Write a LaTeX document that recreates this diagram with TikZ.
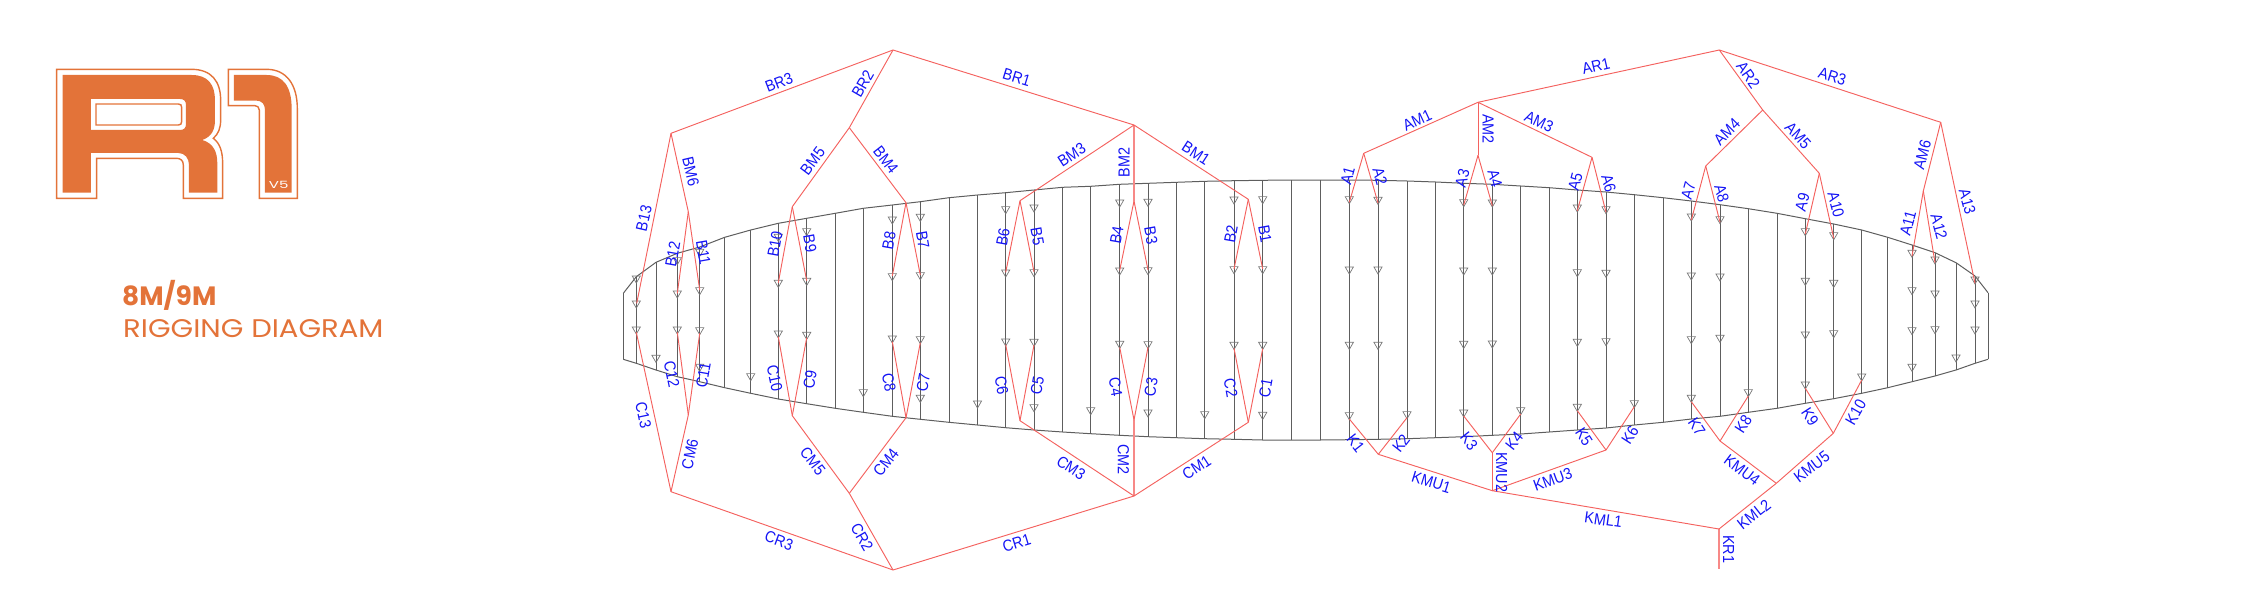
\documentclass[tikz,border=0pt]{standalone}
\usepackage{fontspec}
\setmainfont{Liberation Sans}
\newfontfamily\titlefont{Poppins}
\usetikzlibrary{shapes.geometric}
\definecolor{logoor}{HTML}{E37339}
\definecolor{rigred}{HTML}{F4625F}
\definecolor{labblue}{HTML}{1414F5}
\definecolor{ribgray}{HTML}{5E5E5E}
\tikzset{
  rib/.style={ribgray,line width=1pt},
  wing/.style={ribgray,line width=1pt},
  rig/.style={rigred,line width=.95pt},
  rigthick/.style={rigred!75,line width=1.5pt},
  mk/.style={draw=ribgray!85,line width=.7pt,regular polygon,regular polygon sides=3,shape border rotate=180,minimum size=9.5pt,inner sep=0pt},
  lab/.style={labblue,inner sep=0pt,font=\fontsize{16}{18}\selectfont},
  logoline/.style={logoor,line width=1.4pt},
  titletext/.style={logoor,inner sep=0pt,anchor=base west}
}
\begin{document}
\begin{tikzpicture}[x=1pt,y=-1pt]
\useasboundingbox (0,0) rectangle (2242,608);
\begin{scope}[x=.3333pt,y=-.3333pt,yshift=-30pt]
\fill[logoor,even odd rule] (188,135) -- (575,135) .. controls (625,135) and (645,165) .. (645,210) -- (645,270) .. controls (645,300) and (635,320) .. (607,330) .. controls (640,340) and (652,365) .. (652,400) -- (652,488) -- (567,488) -- (567,405) .. controls (567,385) and (555,369) .. (535,369) -- (273,369) -- (273,488) -- (188,488) -- cycle
  (273,207) -- (540,207) .. controls (552,207) and (558,213) .. (558,225) -- (558,282) .. controls (558,294) and (552,300) .. (540,300) -- (273,300) -- cycle;
\draw[logoline] (170,118) -- (575,118) .. controls (635,118) and (662,155) .. (662,210) -- (662,270) .. controls (662,295) and (655,312) .. (640,325) .. controls (660,340) and (668,365) .. (668,400) -- (668,505) -- (550,505) -- (550,405) .. controls (550,392) and (542,385) .. (530,385) -- (290,385) -- (290,505) -- (170,505) -- cycle;
\draw[logoline] (288,222) -- (535,222) .. controls (542,222) and (545,225) .. (545,232) -- (545,275) .. controls (545,282) and (542,285) .. (535,285) -- (288,285) -- cycle;
\fill[logoor] (702,135) -- (800,135) .. controls (850,135) and (875,170) .. (875,235) -- (875,488) -- (795,488) -- (795,240) .. controls (795,222) and (785,212) .. (770,212) -- (702,212) -- cycle;
\draw[logoline] (685,118) -- (800,118) .. controls (860,118) and (892,165) .. (892,235) -- (892,505) -- (778,505) -- (778,240) .. controls (778,232) and (772,227) .. (765,227) -- (685,227) -- cycle;
\node[white,inner sep=0pt,xscale=1.5,font=\titlefont\fontsize{10}{10}\selectfont] (vfive) at (836,464) {V5};
\end{scope}
\node[titletext,font=\titlefont\bfseries\fontsize{26.5}{27}\selectfont] (sizes) at (122,305) {8M/9M};
\node[titletext,xscale=1.14,font=\titlefont\fontsize{25.5}{27}\selectfont] (title) at (123,337) {RIGGING DIAGRAM};
\foreach \n/\x/\t/\b in {1/623.3/293.3/359.3,2/636.3/276.7/363.3,3/656/262.3/370,4/677.3/253.3/376.7,5/699.7/247/381.7,6/724.7/237.3/387.7,7/750.7/230/393.3,8/778.3/223.3/399,9/806.7/218.3/403.7,10/835.3/213.3/408.3,11/863.3/208.3/412.3,12/892.3/205/416.3,13/920.3/201.7/419.3,14/949/197.7/422.3,15/977.5/195/425,16/1005.7/192.7/427.7,17/1034/190/430,18/1062.7/187.3/432,19/1090.7/186.3/433.7,20/1119.7/184.3/435.3,21/1148/183.3/436.7,22/1176.3/182.3/437.7,23/1204.7/181.3/438.7,24/1234/180.7/439.3,25/1262.7/180.3/440,26/1291.3/180/440,27/1320/180/440,28/1349.3/180/439.7,29/1378/180.3/439.3,30/1407/181/438.7,31/1435.7/182/437.7,32/1463.7/183.3/436.7,33/1492.3/184.3/435.3,34/1520.7/186/434,35/1549.3/187.7/432,36/1577.3/190/430,37/1606/192/428,38/1634.3/194.7/425,39/1663/197.7/422.3,40/1691.3/201/419,41/1720/204.7/416.3,42/1748.3/208.7/412.3,43/1777/213.3/408.3,44/1805.3/218.7/403.3,45/1833.7/224/398.7,46/1861.7/230/393.3,47/1887.7/237.3/387.7,48/1912/245/381.7,49/1935/252.7/376,50/1956/262.7/370,51/1975/276/363.3,52/1988/292.7/359.3}{
  \coordinate (t\n) at (\x,\t);
  \coordinate (b\n) at (\x,\b);
  \draw[rib] (t\n) -- (b\n);
}
\draw[wing] (t1) \foreach \n in {2,...,52}{ -- (t\n)};
\draw[wing] (b1) \foreach \n in {2,...,52}{ -- (b\n)};
\foreach \r/\ylist in {2/{278.3,303.3,329.3},3/{357.7},4/{260,293.3,329.3},5/{251.7,290,330,366.7},7/{376},8/{236.7,282.7,333.3},9/{231,280.7,334.7},11/{392},12/{219.3,276,338.3},13/{216.7,275,339,397.7},15/{403.3},16/{209,272.3,341.3},17/{207.3,272,341.7,407},19/{410},20/{202.3,270.3,343.7},21/{201.7,270,344,412.3},23/{414},24/{199.3,269,344.7},25/{199,269,344.7,414.7},28/{199,269.3,344.7,415},29/{199.7,269.3,344.7},30/{414},32/{202,270.3,343.7,412.3},33/{202.3,270.3,343.3},34/{410},36/{207.3,272,341.7,406.7},37/{209,272.7,341},38/{403},40/{216.3,275.3,339,397.7},41/{219,276.3,337.7},42/{392},44/{231,280.7,334.3,384.3},45/{235,282.7,333},46/{376.3},48/{252.7,290,330,366.7},49/{259.3,293.3,329},50/{357.3},51/{279.3,303.3,329.3}}{
  \foreach \y [count=\k] in \ylist {
    \node[mk] (mk\r-\k) at (t\r |- 0,\y) {};
  }
}
\foreach \nm/\x/\y in {bapex/893/50,bleft/671/133.3,bmid/849.3/127.7,bmfive/792.3/206.7,bmfour/906/202.7,bright/1134/125,bmsix/688.3/211.7,bthree/1020/200.7,bmtwo/1134/201,bone/1248.3/199.3,
  bxiii/636.7/303.3,bxii/677.3/293.3,bxi/699.7/290,bx/778.3/282.7,bix/806.7/280.7,bviii/892.3/276,bvii/920.3/275,bvi/1005.7/272.3,bv/1034/272,biv/1119.7/270.3,biii/1148/270,bii/1234/269,bi/1262.7/269,
  capex/893/570,cleft/671/491.7,cmid/849.3/493.3,cmfive/792.3/415.7,cmfour/906/417.7,cright/1134/496,cmsix/688.3/415,cthree/1020/420.7,cmtwo/1134/420,cone/1248.3/422.3,
  cxiii/636.3/332.3,cxii/677.3/332.3,cxi/699.7/333.3,cx/778.3/336.7,cix/806.7/337.7,cviii/892.3/341.7,cvii/920.3/342.7,cvi/1005.7/344.7,cv/1034/345,civ/1119.7/347.3,ciii/1148/347.3,cii/1234/348.3,ci/1262.7/348.7,
  aleft/1478/102.3,aapex/1719.3/50,amone/1363.7/153.3,amtwo/1478/155.3,amthree/1592/157.3,amid/1762.7/110,amfour/1705.7/166,amfive/1819.3/173.3,aright/1940.7/122.3,amsix/1923.3/191,
  ai/1349.3/202.3,aii/1378/203,aiii/1463.7/205,aiv/1492.3/205.7,av/1577.3/210.7,avi/1606/212.3,avii/1691.3/220,aviii/1720/222.3,aix/1805.3/234,ax/1833.7/238.3,axi/1912/256,axii/1935/262.7,axiii/1975/283.3,
  kone/1378.3/454.3,kjoin/1492.3/490.7,ktwo/1492.3/452.7,kthree/1606/450,kroot/1719/529,kend/1719/569.3,kmid/1776.3/483.3,kfour/1720/441,kfive/1833.3/433.3,
  ki/1349.3/419,kii/1407/417.7,kiii/1463.7/416,kiv/1520.7/414,kv/1577.3/410.7,kvi/1634.3/406.7,kvii/1691.3/401.7,kviii/1748.3/396,kix/1805.3/388.3,kx/1861.7/380}{
  \coordinate (\nm) at (\x,\y);
}
\draw[rigthick] (bright) -- (bmtwo);
\draw[rigthick] (cright) -- (cmtwo);
\draw[rigthick] (kroot) -- (kend);
\foreach \a/\b in {bapex/bleft,bapex/bmid,bapex/bright,bmid/bmfive,bmid/bmfour,bleft/bxiii,bleft/bmsix,bmsix/bxii,bmsix/bxi,bmfive/bx,bmfive/bix,bmfour/bviii,bmfour/bvii,bright/bthree,bright/bone,bthree/bvi,bthree/bv,bmtwo/biv,bmtwo/biii,bone/bii,bone/bi,
  capex/cleft,capex/cmid,capex/cright,cmid/cmfive,cmid/cmfour,cleft/cxiii,cleft/cmsix,cmsix/cxii,cmsix/cxi,cmfive/cx,cmfive/cix,cmfour/cviii,cmfour/cvii,cright/cthree,cright/cone,cthree/cvi,cthree/cv,cmtwo/civ,cmtwo/ciii,cone/cii,cone/ci,
  aleft/aapex,aleft/amone,aleft/amtwo,aleft/amthree,amone/ai,amone/aii,amtwo/aiii,amtwo/aiv,amthree/av,amthree/avi,aapex/amid,aapex/aright,amid/amfour,amid/amfive,amfour/avii,amfour/aviii,amfive/aix,amfive/ax,aright/amsix,aright/axiii,amsix/axi,amsix/axii,
  kone/kjoin,kone/ki,kone/kii,kjoin/ktwo,kjoin/kthree,kjoin/kroot,ktwo/kiii,ktwo/kiv,kthree/kv,kthree/kvi,kroot/kmid,kmid/kfour,kmid/kfive,kfour/kvii,kfour/kviii,kfive/kix,kfive/kx}{
  \draw[rig] (\a) -- (\b);
}
\foreach \nm/\x/\y/\r in {BR3/779/82.7/21,BR2/862.7/84/60,BM6/690.7/171.7/-77,B13/644/218.3/77,BM5/812.7/161/53,BM4/885.7/160/-52,B12/672.7/254.3/80,B11/703.3/252.7/-80,B10/775/244.3/80,B9/810/243.3/-80,B8/889/240.7/80,B7/922.7/240/-80,
  C13/643.3/415/-78,C12/671.7/374.3/-78,C11/703.3/375/80,C10/774.7/378.3/-78,C9/810/379.3/80,C8/889/382.7/-80,C7/923.3/382.7/80,CM6/690/454/78,CM5/812.7/461/-52,CM4/886/462.3/52,CR3/779/540.7/-20,CR2/862/537.3/-60,
  BR1/1016.7/77.7/-17,BM3/1071.7/155/33,BM2/1124/162.3/90,BM1/1196/153.3/-33,B6/1003/237/80,B5/1037.3/236.7/-80,B4/1116.7/235.3/80,B3/1151/235.3/-80,B2/1231/234.3/80,B1/1265/234/-80,
  C6/1001.7/385.3/-80,C5/1037.3/385.7/80,C4/1115.7/387/-80,C3/1151/387/80,C2/1230.7/388/-80,C1/1265.7/388/80,CM3/1071/467.7/-33,CM2/1123.3/459.3/-90,CM1/1196.7/467.7/33,CR1/1016.7/543/17,
  AM1/1417.3/120/25,AM2/1488.3/129/-90,AM3/1539/121.3/-25,AR1/1596/66/13,A1/1347.7/176/75,A2/1380/176.7/-75,A3/1462.3/178.3/75,A4/1495/178.7/-75,A5/1575.3/182/75,A6/1608.7/183.7/-75,A7/1688.3/190.7/75,
  KMU1/1431.3/482.3/-17,KMU2/1501.7/472.3/-90,KMU3/1552.7/479.7/20,KML1/1603.3/520/-8,K1/1355.7/443.3/-52,K2/1401/443.3/52,K3/1469/441/-52,K4/1514.3/440.7/52,K5/1584/436.7/-57,K6/1630/435/57,
  AR2/1748.3/75/-55,AR3/1832.3/76.7/-17,AM4/1727/131.7/45,AM5/1798/135.7/-47,AM6/1922.3/155/75,A8/1721.7/193.3/-75,A9/1802.3/202.3/75,A10/1836/204.7/-75,A11/1908/223.3/75,A12/1939/226.7/-75,A13/1967.3/201.7/-75,
  K7/1696.7/426.7/-57,K8/1743.3/424/57,K9/1810/416.7/-57,K10/1855.7/412.3/60,KMU4/1742/470/-37,KMU5/1811.7/466.7/37,KML2/1754/514.3/38,KR1/1728.7/549.3/-90}{
  \node[lab,rotate=\r,xscale=.9] (lb\nm) at (\x,\y) {\nm};
}
\end{tikzpicture}
\end{document}
